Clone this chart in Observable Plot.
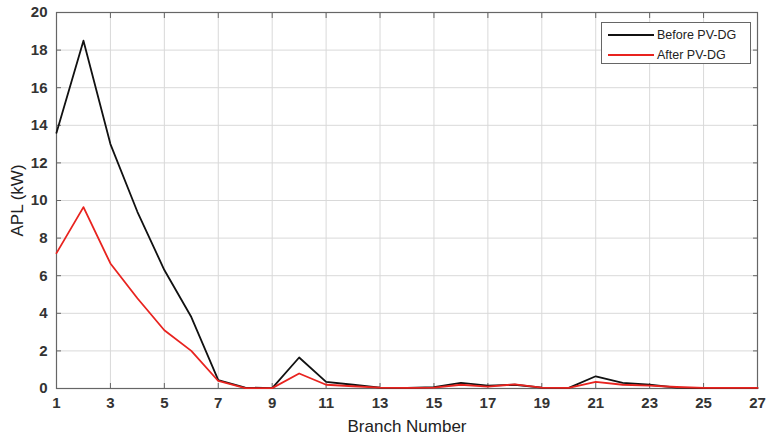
<!DOCTYPE html>
<html><head><meta charset="utf-8">
<script src="https://cdn.jsdelivr.net/npm/d3@7"></script>
<script src="https://cdn.jsdelivr.net/npm/@observablehq/plot@0.6"></script>
<style>
body{margin:0;background:#fff;}
#wrap{position:relative;width:767px;height:438px;font-family:"Liberation Sans",Arial,sans-serif;}
#legend{position:absolute;left:601px;top:22px;width:150px;height:42px;border:1px solid #666;background:#fff;font-size:12.5px;color:#222;box-sizing:border-box;}
#legend .row{display:flex;align-items:center;height:17px;margin-top:3px;}
#legend .sw{width:46px;height:0;border-top:2px solid;margin:0 3px 0 6px;}
</style></head>
<body><div id="wrap"><div id="legend"></div></div>
<script>
const branches = d3.range(1, 28);
const beforePV = [13.6,18.5,13.0,9.4,6.3,3.8,0.45,0.05,0.02,1.65,0.35,0.2,0.05,0.03,0.07,0.3,0.15,0.2,0.05,0.03,0.65,0.3,0.2,0.05,0.02,0.03,0.03];
const afterPV  = [7.2,9.65,6.65,4.8,3.1,2.0,0.4,0.02,0.02,0.8,0.2,0.12,0.05,0.03,0.05,0.2,0.1,0.22,0.05,0.03,0.35,0.2,0.15,0.08,0.03,0.03,0.03];
const seriesNames = ["Before PV-DG","After PV-DG"];
const seriesColors = ["#111111","#e8231f"];
const xTicks = d3.range(1, 28, 2);
const yTicks = d3.range(0, 21, 2);

const rows = [];
branches.forEach((b,i)=>{
  rows.push({branch:b, apl:beforePV[i], series:seriesNames[0]});
  rows.push({branch:b, apl:afterPV[i], series:seriesNames[1]});
});

const blank = () => "";
const chart = Plot.plot({
  width:767, height:438,
  marginLeft:56, marginRight:10, marginTop:12, marginBottom:50,
  style:{fontFamily:"Liberation Sans, Arial, sans-serif", background:"#fff", overflow:"visible"},
  x:{domain:[1,27]},
  y:{domain:[0,20]},
  color:{domain:seriesNames, range:seriesColors},
  marks:[
    Plot.gridX(xTicks,{stroke:"#d9d9d9", strokeOpacity:1}),
    Plot.gridY(yTicks,{stroke:"#d9d9d9", strokeOpacity:1}),
    Plot.frame({stroke:"#666", strokeWidth:1.2}),
    Plot.axisX(xTicks,{anchor:"bottom", tickSize:-5, tickPadding:14, tickFormat:d=>d, fontSize:15, fontWeight:"bold", color:"#333", stroke:"#666", label:null}),
    Plot.axisX(xTicks,{anchor:"top", tickSize:-5, tickFormat:blank, label:null, stroke:"#666"}),
    Plot.axisY(yTicks,{anchor:"left", tickSize:-5, tickPadding:14, tickFormat:d=>d, fontSize:15, fontWeight:"bold", color:"#333", stroke:"#666", label:null}),
    Plot.axisY(yTicks,{anchor:"right", tickSize:-5, tickFormat:blank, label:null, stroke:"#666"}),
    Plot.line(rows,{x:"branch", y:"apl", z:"series", stroke:"series", strokeWidth:1.8}),
    Plot.text(["Branch Number"],{frameAnchor:"bottom", dy:43, text:d=>d, fontSize:17, fill:"#222"}),
    Plot.text(["APL (kW)"],{frameAnchor:"left", textAnchor:"middle", dx:-39, rotate:-90, text:d=>d, fontSize:17, fill:"#222"})
  ]
});
document.getElementById("wrap").prepend(chart);
const lg = document.getElementById("legend");
seriesNames.forEach((n,i)=>{
  const r = document.createElement("div"); r.className="row";
  r.innerHTML = `<span class="sw" style="border-color:${seriesColors[i]}"></span><span>${n}</span>`;
  lg.appendChild(r);
});
</script></body></html>
